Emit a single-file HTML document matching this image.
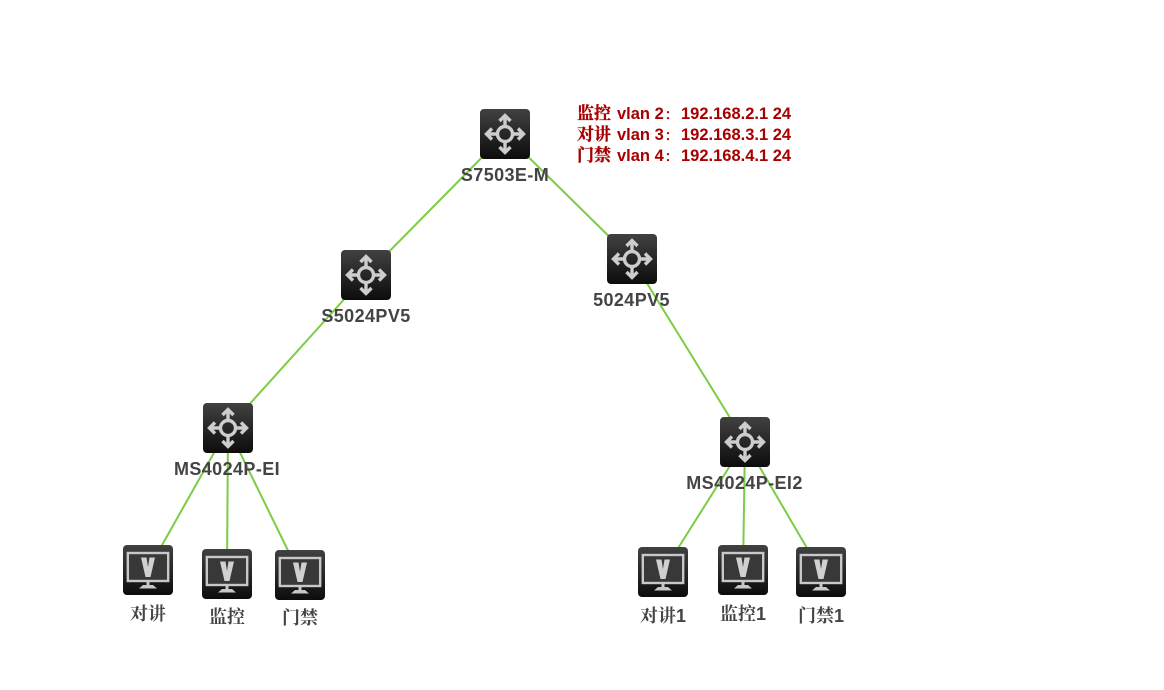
<!DOCTYPE html>
<html lang="zh-CN"><head><meta charset="utf-8"><style>
html,body{margin:0;padding:0;background:#fff;width:1164px;height:690px;overflow:hidden}
svg{display:block}
.l{font-family:"Liberation Sans","Noto Sans CJK SC",sans-serif;font-weight:bold;font-size:18px;letter-spacing:.4px;fill:#444;text-anchor:middle}
.c{font-family:"Liberation Serif","Noto Serif CJK SC",serif;font-weight:bold;font-size:18px;fill:#444;text-anchor:middle}
.c tspan{font-family:"Liberation Sans",sans-serif}
.r{font-family:"Liberation Sans","Noto Sans CJK SC",sans-serif;font-weight:bold;font-size:16.5px;fill:#a80000}
.k{font-family:"Liberation Sans","Noto Sans CJK SC",sans-serif;font-weight:bold;font-size:12px;fill:#a80000}
.z{font-family:"Liberation Serif","Noto Serif CJK SC",serif;font-weight:bold;font-size:17px;fill:#a80000;stroke:#a80000;stroke-width:.3px}
</style></head><body>
<svg width="1164" height="690" viewBox="0 0 1164 690" xmlns="http://www.w3.org/2000/svg">
<defs>
<linearGradient id="g" x1="0" y1="0" x2="0" y2="1"><stop offset="0" stop-color="#414141"/><stop offset="1" stop-color="#0c0c0c"/></linearGradient>
<g id="sw">
<rect width="50" height="50" rx="4" fill="url(#g)"/>
<g fill="none" stroke="#cdcdcd" stroke-width="3.400">
<circle cx="25" cy="25" r="7.500"/>
<path d="M25 17V8M25 33V42M17 25H8M33 25H42"/>
<path d="M19.500 12L25 6.500L30.500 12M19.500 38L25 43.500L30.500 38M12 19.500L6.500 25L12 30.500M38 19.500L43.500 25L38 30.500"/>
</g>
</g>
<g id="mon">
<rect width="50" height="50" rx="4" fill="url(#g)"/>
<rect x="4.800" y="8" width="40.400" height="28" fill="#383838" stroke="#c8c8c8" stroke-width="2.400"/>
<path d="M18 12.500H23.500L25 22L26.500 12.500H32L27.500 32H22.500Z" fill="#d0d0d0"/>
<rect x="23.500" y="37" width="3" height="3" fill="#c8c8c8"/>
<path d="M20 40H30L34 43.500H16Z" fill="#c8c8c8"/>
</g>
</defs>
<g stroke="#7ccc44" stroke-width="2" fill="none">
<line x1="505" y1="134" x2="366" y2="275"/>
<line x1="505" y1="134" x2="632" y2="259"/>
<line x1="366" y1="275" x2="228" y2="428"/>
<line x1="632" y1="259" x2="745" y2="442"/>
<line x1="228" y1="428" x2="148" y2="570"/>
<line x1="228" y1="428" x2="227" y2="574"/>
<line x1="228" y1="428" x2="300" y2="575"/>
<line x1="745" y1="442" x2="663" y2="572"/>
<line x1="745" y1="442" x2="743" y2="570"/>
<line x1="745" y1="442" x2="821" y2="572"/>
</g>
<use href="#sw" x="480" y="109"/>
<use href="#sw" x="341" y="250"/>
<use href="#sw" x="607" y="234"/>
<use href="#sw" x="203" y="403"/>
<use href="#sw" x="720" y="417"/>
<use href="#mon" x="123" y="545"/>
<use href="#mon" x="202" y="549"/>
<use href="#mon" x="275" y="550"/>
<use href="#mon" x="638" y="547"/>
<use href="#mon" x="718" y="545"/>
<use href="#mon" x="796" y="547"/>
<text class="l" x="505" y="181">S7503E-M</text>
<text class="l" x="366" y="322">S5024PV5</text>
<text class="l" x="631.500" y="306">5024PV5</text>
<text class="l" x="227" y="475">MS4024P-EI</text>
<text class="l" x="744.500" y="489">MS4024P-EI2</text>
<text class="c" x="148" y="620">对讲</text>
<text class="c" x="227" y="623">监控</text>
<text class="c" x="300" y="624">门禁</text>
<text class="c" x="663" y="622">对讲<tspan>1</tspan></text>
<text class="c" x="743" y="620">监控<tspan>1</tspan></text>
<text class="c" x="821" y="622">门禁<tspan>1</tspan></text>
<text class="z" x="577" y="119">监控</text>
<text class="z" x="577" y="140">对讲</text>
<text class="z" x="577" y="161">门禁</text>
<text class="r" x="617" y="119">vlan 2</text>
<text class="r" x="617" y="140">vlan 3</text>
<text class="r" x="617" y="161">vlan 4</text>
<text class="k" x="665" y="119">：</text>
<text class="k" x="665" y="140">：</text>
<text class="k" x="665" y="161">：</text>
<text class="r" x="681" y="119">192.168.2.1 24</text>
<text class="r" x="681" y="140">192.168.3.1 24</text>
<text class="r" x="681" y="161">192.168.4.1 24</text>
</svg>
</body></html>
